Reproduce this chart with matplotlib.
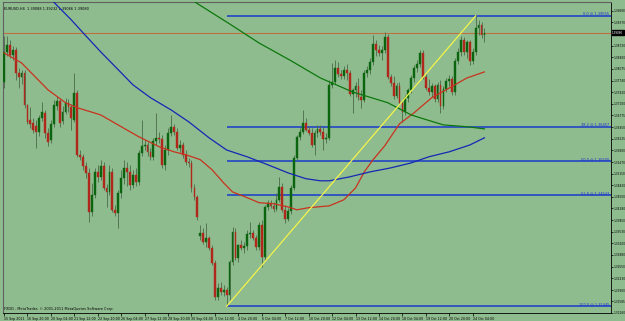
import numpy as np
import matplotlib.pyplot as plt

# EURUSD H4 candles (bar 0 = 15 Sep 2011 12:00)
opens = [1.3771, 1.3855, 1.3874, 1.3847, 1.3860, 1.3796, 1.3785, 1.3796, 1.3707, 1.3665,
         1.3657, 1.3648, 1.3632, 1.3671, 1.3685, 1.3629, 1.3609, 1.3654, 1.3704, 1.3718,
         1.3662, 1.3688, 1.3713, 1.3701, 1.3665, 1.3741, 1.3568, 1.3562, 1.3537, 1.3517,
         1.3408, 1.3456, 1.3520, 1.3506, 1.3537, 1.3475, 1.3464, 1.3520, 1.3414, 1.3406,
         1.3462, 1.3503, 1.3531, 1.3520, 1.3484, 1.3512, 1.3492, 1.3573, 1.3593, 1.3595,
         1.3576, 1.3562, 1.3607, 1.3615, 1.3612, 1.3540, 1.3581, 1.3629, 1.3646, 1.3632,
         1.3587, 1.3595, 1.3568, 1.3548, 1.3545, 1.3475, 1.3450, 1.3342, 1.3350, 1.3325,
         1.3336, 1.3308, 1.3266, 1.3171, 1.3196, 1.3185, 1.3191, 1.3177, 1.3269, 1.3353,
         1.3280, 1.3316, 1.3308, 1.3314, 1.3347, 1.3350, 1.3336, 1.3311, 1.3372, 1.3283,
         1.3422, 1.3434, 1.3425, 1.3417, 1.3442, 1.3478, 1.3414, 1.3389, 1.3411, 1.3475,
         1.3559, 1.3618, 1.3632, 1.3657, 1.3637, 1.3629, 1.3595, 1.3629, 1.3640, 1.3632,
         1.3612, 1.3615, 1.3763, 1.3771, 1.3810, 1.3793, 1.3788, 1.3805, 1.3796, 1.3738,
         1.3749, 1.3760, 1.3729, 1.3721, 1.3796, 1.3805, 1.3827, 1.3877, 1.3860, 1.3852,
         1.3860, 1.3897, 1.3785, 1.3768, 1.3732, 1.3760, 1.3713, 1.3688, 1.3727, 1.3749,
         1.3782, 1.3810, 1.3821, 1.3852, 1.3785, 1.3754, 1.3743, 1.3760, 1.3724, 1.3763,
         1.3704, 1.3752, 1.3774, 1.3780, 1.3743, 1.3830, 1.3855, 1.3888, 1.3855, 1.3883,
         1.3830, 1.3855, 1.3922, 1.3930, 1.3902]
highs = [1.3900, 1.3900, 1.3888, 1.3872, 1.3869, 1.3810, 1.3805, 1.3805, 1.3710, 1.3701,
         1.3671, 1.3665, 1.3679, 1.3715, 1.3693, 1.3643, 1.3665, 1.3721, 1.3732, 1.3724,
         1.3704, 1.3727, 1.3724, 1.3710, 1.3796, 1.3749, 1.3581, 1.3570, 1.3548, 1.3531,
         1.3489, 1.3531, 1.3540, 1.3554, 1.3548, 1.3487, 1.3540, 1.3531, 1.3428, 1.3470,
         1.3526, 1.3554, 1.3548, 1.3540, 1.3526, 1.3531, 1.3581, 1.3665, 1.3609, 1.3604,
         1.3587, 1.3615, 1.3685, 1.3632, 1.3623, 1.3595, 1.3643, 1.3679, 1.3654, 1.3643,
         1.3609, 1.3604, 1.3581, 1.3559, 1.3554, 1.3487, 1.3456, 1.3372, 1.3364, 1.3378,
         1.3342, 1.3316, 1.3275, 1.3210, 1.3213, 1.3205, 1.3199, 1.3275, 1.3367, 1.3364,
         1.3319, 1.3330, 1.3325, 1.3358, 1.3381, 1.3358, 1.3344, 1.3381, 1.3386, 1.3428,
         1.3442, 1.3442, 1.3436, 1.3462, 1.3506, 1.3489, 1.3428, 1.3420, 1.3484, 1.3568,
         1.3623, 1.3643, 1.3693, 1.3671, 1.3648, 1.3643, 1.3637, 1.3651, 1.3651, 1.3646,
         1.3629, 1.3777, 1.3824, 1.3833, 1.3827, 1.3805, 1.3816, 1.3821, 1.3805, 1.3754,
         1.3771, 1.3782, 1.3749, 1.3805, 1.3816, 1.3838, 1.3902, 1.3888, 1.3874, 1.3872,
         1.3911, 1.3905, 1.3793, 1.3788, 1.3768, 1.3771, 1.3721, 1.3735, 1.3754, 1.3791,
         1.3819, 1.3833, 1.3860, 1.3860, 1.3793, 1.3780, 1.3768, 1.3766, 1.3771, 1.3777,
         1.3760, 1.3782, 1.3791, 1.3788, 1.3838, 1.3866, 1.3900, 1.3897, 1.3888, 1.3888,
         1.3866, 1.39555, 1.3944, 1.3939, 1.3922]
lows = [1.3754, 1.3844, 1.3838, 1.3833, 1.3777, 1.3754, 1.3766, 1.3699, 1.3654, 1.3643,
        1.3629, 1.3587, 1.3621, 1.3662, 1.3615, 1.3593, 1.3601, 1.3646, 1.3693, 1.3646,
        1.3654, 1.3682, 1.3688, 1.3637, 1.3660, 1.3562, 1.3554, 1.3526, 1.3503, 1.3381,
        1.3397, 1.3448, 1.3492, 1.3498, 1.3470, 1.3422, 1.3456, 1.3408, 1.3397, 1.3364,
        1.3448, 1.3487, 1.3481, 1.3470, 1.3475, 1.3481, 1.3484, 1.3565, 1.3581, 1.3565,
        1.3554, 1.3554, 1.3595, 1.3601, 1.3531, 1.3526, 1.3568, 1.3621, 1.3623, 1.3581,
        1.3576, 1.3559, 1.3540, 1.3534, 1.3464, 1.3442, 1.3386, 1.3330, 1.3319, 1.3311,
        1.3302, 1.3261, 1.3163, 1.3163, 1.3177, 1.3174, 1.31445, 1.3163, 1.3261, 1.3275,
        1.3269, 1.3302, 1.3294, 1.3302, 1.3336, 1.3330, 1.3302, 1.3302, 1.3255, 1.3275,
        1.3414, 1.3420, 1.3408, 1.3411, 1.3436, 1.3408, 1.3378, 1.3383, 1.3403, 1.3470,
        1.3554, 1.3609, 1.3626, 1.3635, 1.3623, 1.3590, 1.3568, 1.3618, 1.3623, 1.3581,
        1.3601, 1.3609, 1.3754, 1.3766, 1.3785, 1.3780, 1.3780, 1.3777, 1.3732, 1.3685,
        1.3729, 1.3721, 1.3699, 1.3715, 1.3785, 1.3793, 1.3819, 1.3844, 1.3844, 1.3833,
        1.3852, 1.3780, 1.3760, 1.3724, 1.3727, 1.3707, 1.3660, 1.3679, 1.3715, 1.3741,
        1.3771, 1.3799, 1.3813, 1.3780, 1.3749, 1.3735, 1.3729, 1.3715, 1.3715, 1.3685,
        1.3696, 1.3743, 1.3760, 1.3735, 1.3735, 1.3821, 1.3844, 1.3847, 1.3838, 1.3819,
        1.3821, 1.3847, 1.3902, 1.3894, 1.3883]
closes = [1.3855, 1.3874, 1.3847, 1.3860, 1.3796, 1.3785, 1.3796, 1.3707, 1.3660, 1.3654,
          1.3637, 1.3632, 1.3671, 1.3688, 1.3629, 1.3604, 1.3654, 1.3707, 1.3718, 1.3657,
          1.3688, 1.3713, 1.3701, 1.3671, 1.3741, 1.3568, 1.3562, 1.3537, 1.3517, 1.3408,
          1.3456, 1.3520, 1.3506, 1.3537, 1.3475, 1.3464, 1.3520, 1.3414, 1.3406, 1.3462,
          1.3503, 1.3531, 1.3520, 1.3484, 1.3512, 1.3492, 1.3573, 1.3593, 1.3595, 1.3576,
          1.3562, 1.3607, 1.3615, 1.3612, 1.3540, 1.3581, 1.3629, 1.3646, 1.3632, 1.3587,
          1.3595, 1.3568, 1.3548, 1.3545, 1.3475, 1.3450, 1.3395, 1.3350, 1.3325, 1.3336,
          1.3308, 1.3266, 1.3171, 1.3196, 1.3185, 1.3191, 1.3177, 1.3269, 1.3353, 1.3280,
          1.3316, 1.3308, 1.3314, 1.3347, 1.3350, 1.3336, 1.3311, 1.3372, 1.3283, 1.3422,
          1.3434, 1.3425, 1.3417, 1.3442, 1.3478, 1.3414, 1.3389, 1.3411, 1.3475, 1.3559,
          1.3618, 1.3632, 1.3657, 1.3637, 1.3629, 1.3595, 1.3629, 1.3640, 1.3632, 1.3612,
          1.3615, 1.3763, 1.3771, 1.3810, 1.3793, 1.3788, 1.3805, 1.3796, 1.3738, 1.3749,
          1.3760, 1.3729, 1.3721, 1.3796, 1.3805, 1.3827, 1.3877, 1.3860, 1.3852, 1.3860,
          1.3897, 1.3785, 1.3768, 1.3732, 1.3760, 1.3713, 1.3688, 1.3727, 1.3749, 1.3782,
          1.3810, 1.3821, 1.3852, 1.3785, 1.3754, 1.3743, 1.3760, 1.3724, 1.3763, 1.3704,
          1.3752, 1.3774, 1.3780, 1.3743, 1.3830, 1.3855, 1.3888, 1.3855, 1.3883, 1.3830,
          1.3855, 1.3922, 1.3930, 1.3902, 1.3908]

# moving averages (bar index, price)
red_ma_bars = [0, 6, 15, 21, 25, 33, 40, 46, 53, 58, 62, 67, 71, 75, 78, 83, 87, 92, 97,
               100, 104, 111, 116, 120, 123, 126, 130, 135, 140, 146, 152, 158, 164]
red_ma = [1.3852, 1.3824, 1.3749, 1.3713, 1.3699, 1.3679, 1.3646, 1.3618, 1.3590, 1.3576,
          1.3568, 1.3554, 1.3526, 1.3489, 1.3464, 1.3448, 1.3434, 1.3431, 1.3422, 1.3414,
          1.3420, 1.3425, 1.3442, 1.3475, 1.3520, 1.3554, 1.3593, 1.3654, 1.3685, 1.3727,
          1.3754, 1.3782, 1.3799]
blue_ma_bars = [16, 23, 27, 33, 39, 44, 50, 57, 63, 70, 76, 83, 90, 97, 103, 108, 111,
                118, 125, 132, 139, 145, 152, 159, 164]
blue_ma = [1.4002, 1.3944, 1.3908, 1.3855, 1.3805, 1.3763, 1.3727, 1.3693, 1.3660, 1.3615,
           1.3581, 1.3562, 1.3540, 1.3517, 1.3501, 1.3495, 1.3495, 1.3506, 1.3520, 1.3531,
           1.3545, 1.3562, 1.3576, 1.3595, 1.3615]
green_ma_bars = [64, 77, 87, 98, 108, 119, 131, 139, 142, 150, 158, 164]
green_ma = [1.4000, 1.3933, 1.3880, 1.3830, 1.3782, 1.3743, 1.3713, 1.3679, 1.3671, 1.3651,
            1.3646, 1.3640]

# fibonacci retracement from the swing low to the swing high
fib_names = ["0.0", "38.2", "50.0", "61.8", "100.0"]
fib_prices = [1.39555, 1.36457, 1.35500, 1.34543, 1.31445]
swing_low_bar = 76
swing_high_bar = 161

last_price = 1.39080
header = "EURUSD,H4  1.39088 1.39232 1.39066 1.39080"

price_ticks = [1.39690, 1.39370, 1.38720, 1.38400, 1.38075, 1.37740, 1.37420, 1.37100,
               1.36775, 1.36450, 1.36125, 1.35800, 1.35470, 1.35150, 1.34820, 1.34500,
               1.34180, 1.33850, 1.33530, 1.33200, 1.32880, 1.32550, 1.32230, 1.31900,
               1.31585, 1.31260]
time_labels = ["15 Sep 2011", "16 Sep 20:00", "20 Sep 04:00", "21 Sep 12:00", "22 Sep 20:00",
               "26 Sep 04:00", "27 Sep 12:00", "28 Sep 20:00", "30 Sep 04:00", "3 Oct 12:00",
               "4 Oct 20:00", "6 Oct 04:00", "7 Oct 12:00", "10 Oct 20:00", "12 Oct 04:00",
               "13 Oct 12:00", "14 Oct 20:00", "18 Oct 04:00", "19 Oct 12:00", "20 Oct 20:00",
               "24 Oct 04:00"]
time_label_bars = list(range(0, 161, 8))

bg = '#8FBC8F'
bull = '#0B650F'
bear = '#B0281C'
wick = '#4A6A48'
tiny = 2.5

fig = plt.figure(figsize=(6.25, 3.21), dpi=100, facecolor=bg)
ax = fig.add_axes([3 / 625, 8 / 321, 608 / 625, 311 / 321], facecolor=bg)

x = np.arange(len(closes))
o = np.array(opens)
c = np.array(closes)
up = c >= o

ax.vlines(x, lows, highs, color=wick, lw=0.6, zorder=3)
ax.bar(x[up], (c - o)[up], bottom=o[up], width=0.62, color=bull, edgecolor=bull, lw=0.3, zorder=4)
ax.bar(x[~up], (c - o)[~up], bottom=o[~up], width=0.62, color=bear, edgecolor=bear, lw=0.3, zorder=4)

ax.plot(red_ma_bars, red_ma, color='#C8321E', lw=0.9, zorder=5)
ax.plot(blue_ma_bars, blue_ma, color='#1428B4', lw=0.9, zorder=5)
ax.plot(green_ma_bars, green_ma, color='#0C780C', lw=0.9, zorder=5)

ax.set_xlim(-0.34, 207.2)
ax.set_ylim(1.31264, 1.39941)

# fib levels
right = ax.get_xlim()[1]
ax.hlines(fib_prices, swing_low_bar, right, color='#3356BE', lw=1.4, zorder=2)
for name, p in zip(fib_names, fib_prices):
    ax.text(0.997, p, f"{name} @ {p:.5f}", transform=ax.get_yaxis_transform(),
            ha='right', va='bottom', fontsize=tiny, color='#1A2FD0')

ax.plot([swing_low_bar, swing_high_bar], [fib_prices[-1], fib_prices[0]],
        color='#F4F44A', lw=0.9, zorder=6)

ax.axhline(last_price, color='#C0703F', lw=0.8, zorder=1)

# axes styling
for s in ['left', 'top']:
    ax.spines[s].set_color('#606060')
    ax.spines[s].set_linewidth(0.8)
ax.spines['right'].set_color('black')
ax.spines['bottom'].set_color('black')
ax.spines['right'].set_linewidth(0.6)
ax.spines['bottom'].set_linewidth(0.6)

ax.yaxis.tick_right()
ax.set_yticks(price_ticks)
ax.set_yticklabels([f"{p:.5f}" for p in price_ticks])
ax.tick_params(axis='y', length=1.2, width=0.5, pad=0.4, labelsize=2.1, colors='black')
ax.set_xticks(time_label_bars)
ax.set_xticklabels(time_labels)
ax.tick_params(axis='x', length=2, width=0.5, pad=0.8, labelsize=2.3, colors='black')
for lbl in ax.get_xticklabels():
    lbl.set_ha('left')

ax.text(1.002, last_price, f"{last_price:.5f}", transform=ax.get_yaxis_transform(),
        ha='left', va='center', fontsize=2.0, color='white',
        bbox=dict(boxstyle='square,pad=0.2', fc='black', ec='black'), clip_on=False)

ax.text(0.002, 0.977, header, transform=ax.transAxes, ha='left', va='center',
        fontsize=tiny, color='black')
ax.text(0.002, 0.008, "FXDD - MetaTrader, \u00a9 2001-2011 MetaQuotes Software Corp.",
        transform=ax.transAxes, ha='left', va='bottom', fontsize=tiny, color='black')

fig.savefig('out.png', dpi=100, facecolor=bg)
